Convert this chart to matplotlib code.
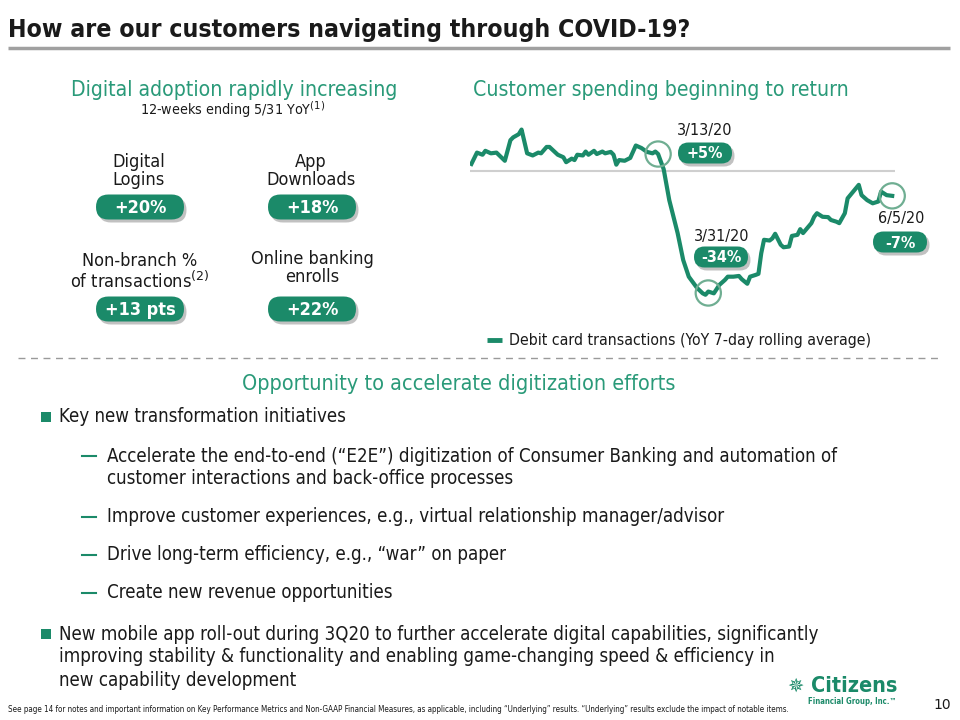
import matplotlib
matplotlib.use("Agg")
import matplotlib.pyplot as plt
from matplotlib.patches import FancyBboxPatch, Rectangle
import numpy as np

plt.rcParams['font.family'] = ['DejaVu Sans']

# debit card transactions, YoY 7-day rolling average (%)
dates = ["2020-01-06", "2020-01-08", "2020-01-10", "2020-01-11", "2020-01-13", "2020-01-15",
         "2020-01-18", "2020-01-20", "2020-01-21", "2020-01-23", "2020-01-24", "2020-01-26",
         "2020-01-28", "2020-01-30", "2020-01-31", "2020-02-02", "2020-02-03", "2020-02-06",
         "2020-02-08", "2020-02-09", "2020-02-11", "2020-02-12", "2020-02-13", "2020-02-15",
         "2020-02-16", "2020-02-17", "2020-02-19", "2020-02-20", "2020-02-22", "2020-02-23",
         "2020-02-25", "2020-02-26", "2020-02-27", "2020-02-28", "2020-03-01", "2020-03-03",
         "2020-03-05", "2020-03-07", "2020-03-09", "2020-03-11", "2020-03-12", "2020-03-13",
         "2020-03-15", "2020-03-17", "2020-03-20", "2020-03-22", "2020-03-24", "2020-03-27",
         "2020-03-29", "2020-03-30", "2020-03-31", "2020-04-02", "2020-04-04", "2020-04-06",
         "2020-04-07", "2020-04-09", "2020-04-11", "2020-04-12", "2020-04-14", "2020-04-15",
         "2020-04-17", "2020-04-18", "2020-04-19", "2020-04-20", "2020-04-22", "2020-04-23",
         "2020-04-24", "2020-04-26", "2020-04-27", "2020-04-29", "2020-04-30", "2020-05-02",
         "2020-05-03", "2020-05-04", "2020-05-07", "2020-05-08", "2020-05-09", "2020-05-11",
         "2020-05-13", "2020-05-14", "2020-05-16", "2020-05-17", "2020-05-19", "2020-05-20",
         "2020-05-22", "2020-05-24", "2020-05-25", "2020-05-27", "2020-05-29", "2020-05-31",
         "2020-06-01", "2020-06-03", "2020-06-05"]
debit_yoy = [2.0, 5.2, 4.6, 5.7, 5.0, 5.2,
             2.9, 8.7, 9.5, 10.4, 11.7, 5.0,
             4.4, 5.2, 5.0, 6.8, 6.8, 4.6,
             3.9, 2.5, 3.5, 3.1, 4.6, 4.4,
             5.5, 4.6, 5.7, 4.8, 5.5, 5.0,
             5.4, 4.6, 1.8, 3.1, 2.9, 3.7,
             7.2, 6.5, 5.4, 5.0, 5.5, 4.8,
             0.5, -8.2, -17.5, -25.1, -29.8, -33.0,
             -34.5, -34.9, -34.0, -34.5, -32.1, -30.7,
             -29.8, -29.8, -29.6, -30.5, -31.8, -29.8,
             -29.3, -29.0, -23.2, -19.4, -19.6, -19.0,
             -17.7, -20.8, -21.5, -21.3, -18.3, -18.0,
             -16.4, -17.5, -14.7, -12.9, -11.9, -12.9,
             -13.0, -13.8, -14.3, -14.7, -11.9, -7.7,
             -5.8, -3.9, -6.8, -8.2, -9.1, -8.6,
             -5.8, -6.8, -7.0]

callout_dates = ["2020-03-13", "2020-03-31", "2020-06-05"]
callout_values = [4.8, -34.4, -7.0]
callout_labels = ["3/13/20", "3/31/20", "6/5/20"]
callout_badges = ["+5%", "-34%", "-7%"]

metric_names = ["Digital\nLogins", "App\nDownloads",
                "Non-branch %\nof transactions$^{(2)}$", "Online banking\nenrolls"]
metric_values = ["+20%", "+18%", "+13 pts", "+22%"]

bullets = [
    ("main", ["Key new transformation initiatives"]),
    ("sub", ["Accelerate the end-to-end (\u201cE2E\u201d) digitization of Consumer Banking and automation of",
             "customer interactions and back-office processes"]),
    ("sub", ["Improve customer experiences, e.g., virtual relationship manager/advisor"]),
    ("sub", ["Drive long-term efficiency, e.g., \u201cwar\u201d on paper"]),
    ("sub", ["Create new revenue opportunities"]),
    ("main", ["New mobile app roll-out during 3Q20 to further accelerate digital capabilities, significantly",
              "improving stability & functionality and enabling game-changing speed & efficiency in",
              "new capability development"]),
]

GREEN = "#1b8a69"
HEAD = "#2a9a79"
TXT = "#1a1a1a"
COND = dict(fontstretch="condensed")

fig = plt.figure(figsize=(9.6, 7.2), dpi=100)
bg = fig.add_axes([0, 0, 1, 1])
bg.set_xlim(0, 960)
bg.set_ylim(720, 0)
bg.axis("off")


def badge(x, y, w, h, label, size=13):
    bg.add_patch(FancyBboxPatch((x - w / 2 + 2.5, y - h / 2 + 3), w, h,
                                boxstyle="round,pad=0,rounding_size=%f" % (h / 2),
                                fc="#8f8f8f", ec="none", alpha=0.55, zorder=3))
    bg.add_patch(FancyBboxPatch((x - w / 2, y - h / 2), w, h,
                                boxstyle="round,pad=0,rounding_size=%f" % (h / 2),
                                fc=GREEN, ec="none", zorder=4))
    bg.text(x, y + 1, label, color="white", fontsize=size, ha="center", va="center",
            weight="bold", zorder=5, **COND)


# title
bg.text(8, 30, "How are our customers navigating through COVID-19?", fontsize=17.8,
        weight="bold", color=TXT, va="center", **COND)
bg.plot([8, 950], [48, 48], color="#a0a0a0", lw=2.5, solid_capstyle="butt")

# left panel
bg.text(234, 90, "Digital adoption rapidly increasing", fontsize=15.2, color=HEAD,
        ha="center", va="center", **COND)
bg.text(233, 110, "12-weeks ending 5/31 YoY$^{(1)}$", fontsize=10.3, color=TXT,
        ha="center", va="center", **COND)
name_xy = [(139, 171), (311, 171), (140, 272), (312, 268)]
badge_xy = [(140, 207), (312, 207), (140, 309), (312, 309)]
for (nx, ny), nm in zip(name_xy, metric_names):
    bg.text(nx, ny, nm, fontsize=13, color=TXT, ha="center", va="center",
            linespacing=1.0, **COND)
for (bx, by), val in zip(badge_xy, metric_values):
    badge(bx, by, 88, 25, val, size=13)

# right panel
bg.text(661, 90, "Customer spending beginning to return", fontsize=15.2, color=HEAD,
        ha="center", va="center", **COND)

ax = fig.add_axes([470 / 960, 1 - 310 / 720, 425 / 960, 190 / 720])
ax.set_zorder(2)
ax.patch.set_alpha(0)
d = np.array(dates, dtype="datetime64[D]")
ax.axhline(0, color="#cfcfcf", lw=1.5, zorder=1)
ax.plot(d, debit_yoy, color=GREEN, lw=3, zorder=3)
ax.scatter(np.array(callout_dates, dtype="datetime64[D]"), callout_values, s=330,
           facecolors="none", edgecolors="#6fae92", linewidths=1.6, zorder=4, clip_on=False)
ax.set_xlim(np.datetime64("2020-01-05T12"), np.datetime64("2020-06-06T00"))
ax.set_ylim(-39.2, 14.4)
ax.axis("off")

label_xy = [(705, 131), (722, 236), (901, 219)]
cbadge_xy = [(705, 153), (721, 257), (900, 242)]
for (lx, ly), lab in zip(label_xy, callout_labels):
    bg.text(lx, ly, lab, fontsize=11.5, color=TXT, ha="center", va="center", **COND)
for (bx, by), lab in zip(cbadge_xy, callout_badges):
    badge(bx, by, 54, 21, lab, size=11.5)

bg.plot([487, 502], [340, 340], color=GREEN, lw=3.5, solid_capstyle="butt")
bg.text(509, 340, "Debit card transactions (YoY 7-day rolling average)", fontsize=11.3,
        color=TXT, va="center", **COND)

# separator
bg.plot([18, 940], [358, 358], color="#9a9a9a", lw=1, ls=(0, (5, 4)))

# bottom
bg.text(459, 384, "Opportunity to accelerate digitization efforts", fontsize=15.5, color=HEAD,
        ha="center", va="center", **COND)
line_y = [[417], [456, 479], [517], [555], [593], [634, 657, 680]]
for (kind, lines), ys in zip(bullets, line_y):
    if kind == "main":
        bg.add_patch(Rectangle((41, ys[0] - 5), 10, 10, color=GREEN, lw=0))
        tx = 59
    else:
        bg.plot([82, 96], [ys[0], ys[0]], color=GREEN, lw=1.5)
        tx = 107
    for s, yy in zip(lines, ys):
        bg.text(tx, yy, s, fontsize=13.4, color=TXT, va="center", **COND)

# footer
bg.text(8, 709, "See page 14 for notes and important information on Key Performance Metrics and "
        "Non-GAAP Financial Measures, as applicable, including \u201cUnderlying\u201d results. "
        "\u201cUnderlying\u201d results exclude the impact of notable items.",
        fontsize=5.75, color=TXT, va="center", **COND)
bg.text(951, 705, "10", fontsize=10, color=TXT, ha="right", va="center")
bg.text(795, 686, "\u2735", fontsize=14, color=GREEN, ha="center", va="center", weight="bold")
bg.text(897, 686, "Citizens", fontsize=15.5, color=GREEN, ha="right", va="center",
        weight="bold", **COND)
bg.text(897, 702, "Financial Group, Inc.\u2122", fontsize=5.6, color=GREEN, ha="right",
        va="center", weight="bold", **COND)

fig.savefig("out.png", dpi=100)
